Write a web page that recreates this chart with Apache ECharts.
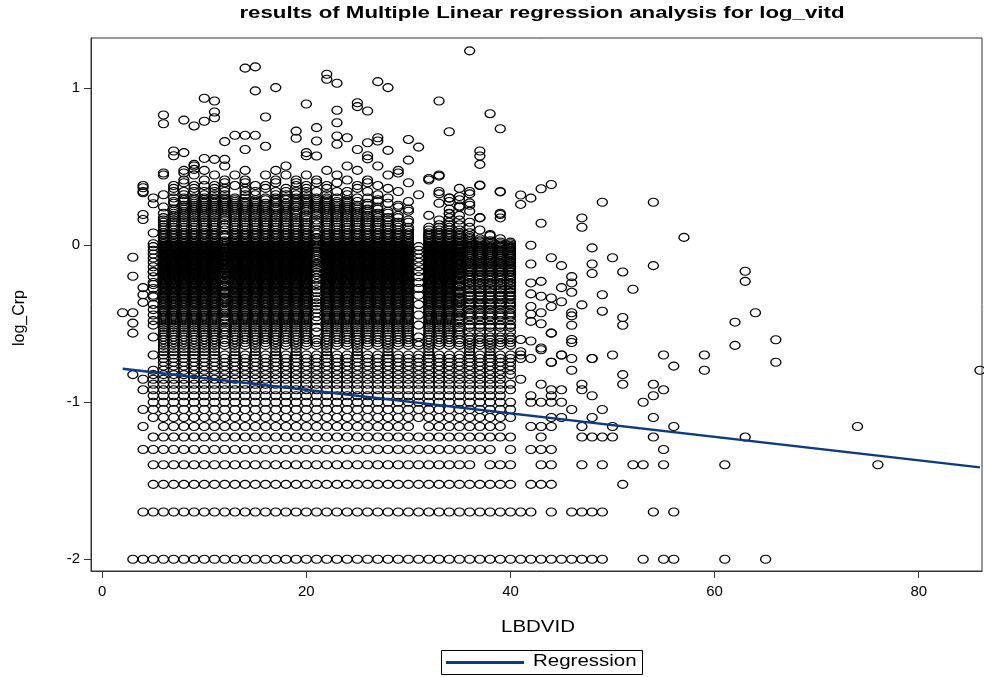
<!DOCTYPE html>
<html>
<head>
<meta charset="utf-8">
<script src="https://cdn.jsdelivr.net/npm/echarts@6/dist/echarts.min.js"></script>
<style>
    html, body {margin: 0; padding: 0; background: #fff;}
    #chart {width: 984px; height: 677px;}
</style>
</head>
<body>
<div id="chart"></div>
<script>
var FONT = '"Liberation Sans", Arial, sans-serif';
var STRETCH = 1.28; // the source picture is widened, so text is too

// axis ticks
var xTicks = [0, 20, 40, 60, 80];
var yTicks = [-2, -1, 0, 1];

// discrete rows below the dense block (log_Crp level -> LBDVID values, [a,b] = every integer a..b)
var lowY = [-2, -1.699, -1.523, -1.398, -1.301, -1.222, -1.155, -1.097, -1.046, -1,
    -0.959, -0.921, -0.886, -0.854, -0.824, -0.796, -0.770, -0.745, -0.721];
var lowX = [
    [[3, 49], 53, 55, 56, 61, 65],
    [[4, 42], 44, [46, 49], 54, 56],
    [[5, 40], [42, 44], 51],
    [[5, 36], [38, 40], 43, 44, 47, 49, 52, 53, 55, 61, 76],
    [[4, 38], 40, [42, 44], 55],
    [[5, 40], 43, [47, 50], 54, 63],
    [4, [6, 30], [32, 39], [42, 44], 47, 50, 56, 74],
    [[5, 40], 44, 45, 48, 54],
    [[4, 40], 46, 49],
    [[5, 40], [42, 45], 53],
    [[5, 39], 42, 44, 48, 54],
    [4, [5, 40], 44, 45, 47, 55],
    [[5, 40], 43, 47, 51, 54],
    [4, [5, 39], 41],
    [3, [5, 40], 51],
    [[5, 40], 46, 59, 86],
    [[6, 40], 56],
    [[6, 40], 44, 66],
    [[6, 40], 41, 42, 46, 48]
];

// dense block: levels and which x-span set each level uses
var spanSets = [
    [[5, 40], 41, 45, 50, 55, 59],                          // 0 bottom row
    [[6, 40]],                                              // 1 full
    [[6, 30], [32, 40]],                                    // 2 core
    [[6, 20], [22, 30], [32, 35]],                          // 3 core, right part thinner
    [5, [6, 11], [13, 20], [22, 34], [36, 40]],             // 4 with gaps
    [[6, 11], 13, 15, 17, 19, 22, 25, 28, 32, 36, 38]       // 5 sparse
];
var massY = [-0.699, -0.678, -0.658, -0.638, -0.620, -0.602, -0.585, -0.569, -0.553, -0.538,
    -0.523, -0.509, -0.495, -0.481, -0.469, -0.456, -0.444, -0.432, -0.420, -0.409,
    -0.398, -0.387, -0.377, -0.367, -0.357, -0.347, -0.337, -0.328, -0.319, -0.310,
    -0.301, -0.292, -0.284, -0.276, -0.268, -0.260, -0.252, -0.244, -0.237, -0.229,
    -0.222, -0.215, -0.208, -0.201, -0.194, -0.187, -0.180, -0.174, -0.167, -0.161,
    -0.155, -0.149, -0.143, -0.137, -0.131, -0.125, -0.119, -0.114, -0.108, -0.102,
    -0.097, -0.092, -0.086, -0.081, -0.076, -0.071, -0.066, -0.060, -0.056, -0.051,
    -0.046, -0.041, -0.036, -0.032, -0.027, -0.022, -0.018, -0.013, -0.009, -0.004, 0];
var massSet = [0, 5, 5, 1, 1, 2, 4, 3, 2, 3,
    2, 4, 3, 2, 3, 2, 4, 2, 3, 2,
    3, 2, 4, 2, 3, 2, 3, 2, 4, 3,
    2, 3, 2, 4, 3, 2, 3, 2, 4, 3,
    2, 3, 2, 4, 3, 2, 3, 2, 4, 3,
    2, 3, 2, 4, 3, 2, 3, 2, 4, 3,
    2, 3, 2, 4, 3, 2, 3, 2, 4, 3,
    2, 3, 2, 4, 3, 2, 3, 2, 4, 3, 2];

// band above the block, thinning out upwards
var topY = [0.009, 0.021, 0.029, 0.041, 0.049, 0.061, 0.068, 0.079, 0.097, 0.114,
    0.130, 0.146, 0.161, 0.176, 0.190, 0.204, 0.217, 0.230, 0.243, 0.255,
    0.267, 0.279, 0.290, 0.301, 0.322, 0.342, 0.362, 0.380, 0.398, 0.415,
    0.447, 0.477, 0.505];
var topX = [
    [[5, 30], [32, 40]],
    [[6, 30], [32, 39]],
    [[6, 30], [32, 38]],
    [[6, 11], [13, 30], [32, 37], 39],
    [[6, 30], [32, 36]],
    [[6, 20], [22, 30], [32, 36], 38],
    [[6, 30], [32, 35]],
    [[6, 11], [13, 30], [32, 36]],
    [[6, 30], [32, 35], 37],
    [[6, 20], [22, 30], [32, 34], 36],
    [[6, 29], 33, 34, 35],
    [[6, 11], [13, 30], 34, 36],
    [[6, 28], 30, 33, 35],
    [[6, 20], [22, 29], 34, 37],
    [[7, 27], 29, 32, 35],
    [[6, 19], [21, 28], 34, 39],
    [[7, 26], 28, 30, 36],
    [[7, 18], [20, 27], 30, 34],
    [6, [8, 25], 27, 29, 35],
    [[8, 16], [18, 26], 29, 36],
    [7, [9, 24], 26, 28, 33],
    [[7, 15], 17, [19, 25], 27, 30, 34],
    [[8, 13], [15, 22], 24, 27, 35],
    [5, [7, 14], [16, 23], 25, 26, 28, 34],
    [6, 8, [10, 12], 14, 15, [17, 20], 22, 24, 27, 31],
    [4, [7, 12], 14, 15, [17, 21], 23, 24, 26, 29, 33, 36, 39],
    [7, 9, 11, 12, 14, 16, 18, 20, 22, 25, 28, 35],
    [4, 7, [9, 11], 13, 15, 16, 19, 20, 22, 25, 27, 37],
    [8, 12, 14, 17, 19, 21, 23, 26, 30],
    [8, 10, 12, 14, 17, 19, 21, 24, 26, 32],
    [6, 9, 11, 13, 16, 18, 20, 23, 28, 33],
    [8, 10, 14, 17, 22, 25, 29],
    [9, 12, 18, 24, 27]
];

// single points read one by one
var loosePts = [
    [36, 1.238], [22, 1.089], [22, 1.057], [23, 1.032], [27, 1.042], [28, 1.004],
    [14, 1.128], [15, 1.136], [15, 0.983], [17, 1.004], [20, 0.90], [10, 0.936], [11, 0.919],
    [11, 0.849], [11, 0.812], [10, 0.79], [9, 0.76], [8, 0.797], [6, 0.83], [6, 0.774],
    [16, 0.817], [12, 0.66], [13, 0.70], [14, 0.70], [15, 0.70], [16, 0.63], [14, 0.61],
    [19, 0.727], [19, 0.681], [20, 0.59], [20, 0.57], [7, 0.60], [7, 0.57], [8, 0.59],
    [10, 0.553], [11, 0.547], [12, 0.547], [9, 0.515], [9, 0.483], [6, 0.46], [8, 0.46],
    [4, 0.366], [4, 0.334], [4, 0.196], [4, 0.164], [5, 0.264], [5, 0.078],
    [23, 0.86], [25, 0.908], [25, 0.883], [26, 0.855], [33, 0.919], [34, 0.723], [38, 0.838],
    [39, 0.742], [23, 0.78], [21, 0.749], [21, 0.664], [21, 0.568], [23, 0.696], [24, 0.685],
    [23, 0.643], [27, 0.685], [27, 0.664], [26, 0.653], [28, 0.604], [30, 0.674], [31, 0.625],
    [25, 0.61], [26, 0.57], [26, 0.55], [30, 0.542], [29, 0.46], [32, 0.425], [33, 0.44],
    [37, 0.60], [37, 0.568], [37, 0.515], [37, 0.383], [39, 0.34], [33, 0.327], [34, 0.30],
    [35, 0.31], [36, 0.327], [35, 0.25], [36, 0.27], [34, 0.2], [37, 0.174], [39, 0.196],
    [39, 0.174], [38, 0.068], [40, 0.02], [41, 0.32], [41, 0.26], [42, 0.30], [43, 0.36],
    [44, 0.387], [49, 0.274], [54, 0.274], [43, 0.14], [47, 0.174], [47, 0.115], [57, 0.05],
    [42, 0.0], [48, -0.017], [42, -0.12], [44, -0.08], [45, -0.13], [48, -0.12], [48, -0.18],
    [50, -0.08], [51, -0.17], [54, -0.13], [52, -0.28], [63, -0.166], [63, -0.23], [64, -0.43],
    [62, -0.49], [62, -0.638], [66, -0.602], [42, -0.24], [43, -0.23], [42, -0.31], [43, -0.325],
    [44, -0.336], [42, -0.39], [44, -0.39], [45, -0.36], [42, -0.44], [42, -0.485], [43, -0.43],
    [43, -0.5], [44, -0.56], [42, -0.61], [43, -0.666], [45, -0.27], [46, -0.2], [46, -0.24],
    [46, -0.30], [46, -0.43], [46, -0.45], [46, -0.51], [46, -0.6], [46, -0.62], [47, -0.38],
    [48, -0.721], [49, -0.315], [49, -0.42], [51, -0.46], [51, -0.51], [41, -0.6], [43, -0.655],
    [44, -0.56], [41, -0.678], [44, -0.745], [45, -0.699], [40, -0.02], [40, -0.1], [40, -0.3],
    [3, -0.077], [3, -0.198], [4, -0.27], [4, -0.315], [4, -0.364], [2, -0.43], [3, -0.43],
    [3, -0.496], [3, -0.56], [5, -0.17], [5, -0.25], [5, -0.33], [5, -0.41], [5, -0.48]
];

// fitted regression line end points
var regX = [2, 86];
var regY = [-0.787, -1.415];

var REG_COLOR = '#0b3a87';

function expand(list) {
    var out = [];
    list.forEach(function (v) {
        if (Array.isArray(v)) {
            for (var i = v[0]; i <= v[1]; i++) out.push(i);
        } else {
            out.push(v);
        }
    });
    return out;
}

var points = [];
lowY.forEach(function (y, i) {
    expand(lowX[i]).forEach(function (x) { points.push([x, y]); });
});
massY.forEach(function (y, i) {
    expand(spanSets[massSet[i]]).forEach(function (x) { points.push([x, y]); });
});
topY.forEach(function (y, i) {
    expand(topX[i]).forEach(function (x) { points.push([x, y]); });
});
loosePts.forEach(function (p) { points.push(p); });

var chart = echarts.init(document.getElementById('chart'), null, {renderer: 'canvas'});

var option = {
    animation: false,
    backgroundColor: '#fff',
    grid: {
        left: 91,
        right: 2,
        top: 38,
        bottom: 106,
        show: true,
        borderColor: '#333',
        borderWidth: 1
    },
    xAxis: {
        type: 'value',
        min: -1.1,
        max: 86.2,
        axisLine: {show: true, onZero: false, lineStyle: {color: '#333', width: 1}},
        axisTick: {show: true, length: 7, customValues: xTicks, lineStyle: {color: '#333'}},
        axisLabel: {customValues: xTicks, fontFamily: FONT, fontSize: 15, color: '#000', margin: 13},
        splitLine: {show: false}
    },
    yAxis: {
        type: 'value',
        min: -2.075,
        max: 1.32,
        axisLine: {show: true, onZero: false, lineStyle: {color: '#333', width: 1}},
        axisTick: {show: true, length: 7, customValues: yTicks, lineStyle: {color: '#333'}},
        axisLabel: {customValues: yTicks, fontFamily: FONT, fontSize: 15, color: '#000', margin: 11},
        splitLine: {show: false}
    },
    graphic: [{
        // title
        type: 'text',
        x: 542,
        y: 13,
        scaleX: 1.31,
        style: {
            text: 'results of Multiple Linear regression analysis for log_vitd',
            font: 'bold 17px ' + FONT,
            fill: '#000',
            align: 'center',
            verticalAlign: 'middle'
        }
    }, {
        type: 'text',
        x: 538,
        y: 628,
        scaleX: STRETCH,
        style: {text: 'LBDVID', font: '16px ' + FONT, fill: '#000', align: 'center', verticalAlign: 'middle'}
    }, {
        type: 'text',
        x: 20,
        y: 318,
        rotation: Math.PI / 2,
        style: {text: 'log_Crp', font: '16px ' + FONT, fill: '#000', align: 'center', verticalAlign: 'middle'}
    }, {
        // legend box
        type: 'rect',
        shape: {x: 441.5, y: 650.5, width: 201, height: 24},
        style: {fill: '#fff', stroke: '#000', lineWidth: 1}
    }, {
        type: 'line',
        shape: {x1: 446, y1: 662.5, x2: 524, y2: 662.5},
        style: {stroke: REG_COLOR, lineWidth: 3}
    }, {
        type: 'text',
        x: 533,
        y: 662,
        scaleX: STRETCH,
        style: {text: 'Regression', font: '16px ' + FONT, fill: '#000', align: 'left', verticalAlign: 'middle'}
    }],
    series: [{
        name: 'obs',
        type: 'scatter',
        silent: true,
        symbol: 'circle',
        symbolSize: [10, 8],
        itemStyle: {color: 'rgba(0,0,0,0)', borderColor: '#000', borderWidth: 1.2, opacity: 1},
        data: points,
        z: 2
    }, {
        name: 'Regression',
        type: 'line',
        silent: true,
        showSymbol: false,
        symbol: 'none',
        itemStyle: {color: REG_COLOR},
        lineStyle: {color: REG_COLOR, width: 2.5},
        data: regX.map(function (x, i) { return [x, regY[i]]; }),
        z: 5
    }]
};

chart.setOption(option);
</script>
</body>
</html>
